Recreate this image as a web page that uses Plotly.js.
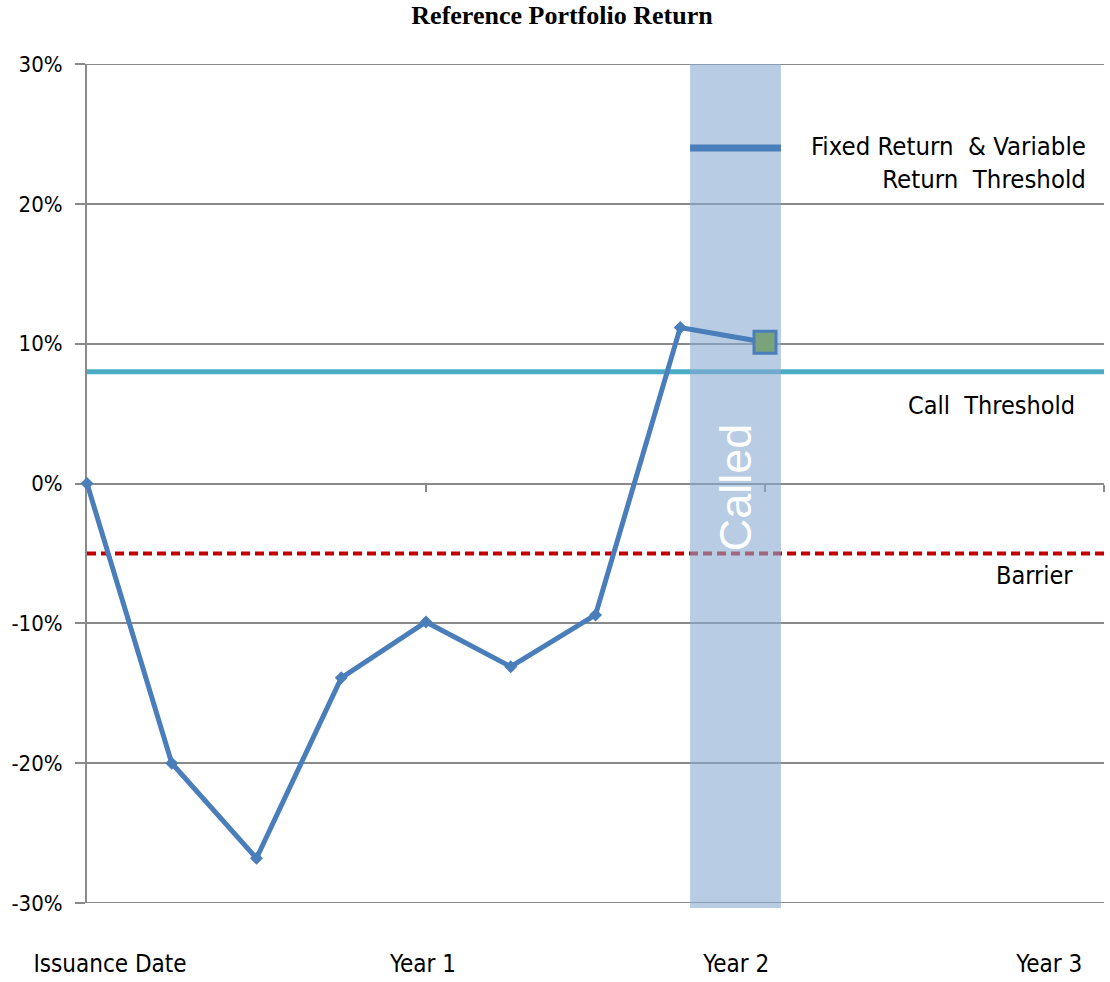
<!DOCTYPE html>
<html>
<head>
<meta charset="utf-8">
<script src="https://cdn.plot.ly/plotly-3.0.1.min.js"></script>
<style>html,body{margin:0;padding:0;background:#fff;}#chart{width:1110px;height:982px;}</style>
</head>
<body>
<div id="chart"></div>
<script>
// ---- data ----
const quarters = [0, 0.25, 0.5, 0.75, 1, 1.25, 1.5, 1.75, 2];           // years since issuance
const portfolioReturn = [0, -20, -26.8, -13.9, -9.9, -13.1, -9.4, 11.15, 10.1]; // %
const callThreshold = 8;        // %
const barrier = -5;             // %
const fixedReturnThreshold = 24; // %
const calledStart = 1.779;      // years
const calledEnd = 2.047;        // years
const xSpan = [0, 3];
const yTickVals = [-30, -20, -10, 0, 10, 20, 30];
const yTickText = ['-30%', '-20%', '-10%', '0%', '10%', '20%', '30%'];
const xLabelVals = [0, 1, 2, 3];
const xLabelText = ['Issuance Date', 'Year 1', 'Year 2', 'Year 3'];

const labelFont = 'DejaVu Sans Condensed, Liberation Sans, Arial, sans-serif';
const gridCol = '#8a8a8a';
const lineBlue = '#4a7ebb';

const last = quarters.length - 1;
const yMin = yTickVals[0], yMax = yTickVals[yTickVals.length - 1];

const traces = [
  { // call threshold
    x: xSpan, y: [callThreshold, callThreshold], mode: 'lines',
    line: {color: '#4bacc6', width: 5}, hoverinfo: 'skip', showlegend: false
  },
  { // barrier
    x: xSpan, y: [barrier, barrier], mode: 'lines',
    line: {color: '#c00000', width: 4, dash: '9px,5px'}, hoverinfo: 'skip', showlegend: false
  },
  { // called band
    x: [calledStart, calledEnd, calledEnd, calledStart, calledStart],
    y: [yMin, yMin, yMax, yMax, yMin],
    mode: 'lines', fill: 'toself', fillcolor: 'rgba(137,170,210,0.6)',
    line: {width: 0}, hoverinfo: 'skip', showlegend: false
  },
  { // portfolio return
    x: quarters, y: portfolioReturn, mode: 'lines+markers',
    line: {color: lineBlue, width: 5},
    marker: {symbol: 'diamond', size: 10, color: lineBlue},
    showlegend: false, cliponaxis: false
  },
  { // call point
    x: [quarters[last]], y: [portfolioReturn[last]], mode: 'markers',
    marker: {symbol: 'square', size: 22, color: '#7aa37c', line: {color: lineBlue, width: 3}},
    showlegend: false, cliponaxis: false
  },
  { // fixed return & variable return threshold
    x: [calledStart, calledEnd], y: [fixedReturnThreshold, fixedReturnThreshold], mode: 'lines',
    line: {color: lineBlue, width: 7}, hoverinfo: 'skip', showlegend: false
  },
  { // carrier for the bottom label axis (invisible)
    x: xLabelVals, y: xLabelVals.map(() => 0), xaxis: 'x2', yaxis: 'y',
    mode: 'markers', marker: {opacity: 0, size: 1}, hoverinfo: 'skip', showlegend: false
  }
];

const layout = {
  width: 1110, height: 982,
  margin: {l: 87, r: 6, t: 64, b: 79},
  paper_bgcolor: '#fff', plot_bgcolor: '#fff',
  showlegend: false,
  title: {
    text: '<b>Reference Portfolio Return</b>',
    font: {family: 'Liberation Serif, Times New Roman, serif', size: 26, color: '#000'},
    x: 562 / 1110, xanchor: 'center', y: 1 - 15 / 982, yanchor: 'middle'
  },
  xaxis: {
    range: xSpan, anchor: 'free', position: 0.5,
    showline: true, linecolor: gridCol, linewidth: 2,
    ticks: 'outside', ticklen: 7, tickwidth: 2, tickcolor: gridCol,
    tickvals: [1, 2, 3], showticklabels: false,
    showgrid: false, zeroline: false, layer: 'below traces', fixedrange: true
  },
  xaxis2: {
    overlaying: 'x', anchor: 'y', side: 'bottom',
    range: [-0.0734, 3.175],
    tickvals: xLabelVals, ticktext: xLabelText,
    ticks: '', ticklabelstandoff: 44,
    tickfont: {family: labelFont, size: 24, color: '#000'},
    showline: false, showgrid: false, zeroline: false, fixedrange: true
  },
  yaxis: {
    range: [yMin, yMax],
    tickvals: yTickVals, ticktext: yTickText,
    tickfont: {family: labelFont, size: 22, color: '#000'},
    ticks: 'outside', ticklen: 10, tickwidth: 2, tickcolor: gridCol,
    ticklabelstandoff: 8,
    showline: true, linecolor: gridCol, linewidth: 2,
    showgrid: true, gridcolor: gridCol, gridwidth: 2,
    zeroline: false, layer: 'below traces', fixedrange: true
  },
  shapes: [
    { // small overhang of the band under the plot bottom
      type: 'rect', xref: 'x', yref: 'paper', x0: calledStart, x1: calledEnd, y0: -0.006, y1: 0,
      fillcolor: 'rgba(137,170,210,0.6)', line: {width: 0}, layer: 'above'
    },
    { // top gridline (at range edge)
      type: 'line', xref: 'paper', yref: 'y', x0: 0, x1: 1, y0: yMax, y1: yMax,
      line: {color: gridCol, width: 2}, layer: 'below'
    },
    { // bottom gridline (at range edge)
      type: 'line', xref: 'paper', yref: 'y', x0: 0, x1: 1, y0: yMin, y1: yMin,
      line: {color: gridCol, width: 2}, layer: 'below'
    }
  ],
  annotations: [
    {
      text: 'Fixed Return  &amp; Variable<br>Return  Threshold', xref: 'paper', yref: 'y',
      x: 0.984, y: 22.96, xanchor: 'right', yanchor: 'middle', align: 'right', showarrow: false,
      font: {family: labelFont, size: 25.5, color: '#000'}
    },
    {
      text: 'Call  Threshold', xref: 'paper', yref: 'y',
      x: (1077 - 87) / 1017, y: 5.58, xanchor: 'right', yanchor: 'middle', showarrow: false,
      font: {family: labelFont, size: 25, color: '#000'}
    },
    {
      text: 'Barrier', xref: 'paper', yref: 'y',
      x: (1075 - 87) / 1017, y: -6.58, xanchor: 'right', yanchor: 'middle', showarrow: false,
      font: {family: labelFont, size: 25, color: '#000'}
    },
    {
      text: 'Called', xref: 'x', yref: 'y',
      x: (calledStart + calledEnd) / 2, y: -0.3, textangle: -90,
      xanchor: 'center', yanchor: 'middle', showarrow: false,
      font: {family: 'Liberation Sans, Arial, sans-serif', size: 45, color: '#fff'}
    }
  ]
};

Plotly.newPlot('chart', traces, layout, {staticPlot: true, displayModeBar: false});
</script>
</body>
</html>
